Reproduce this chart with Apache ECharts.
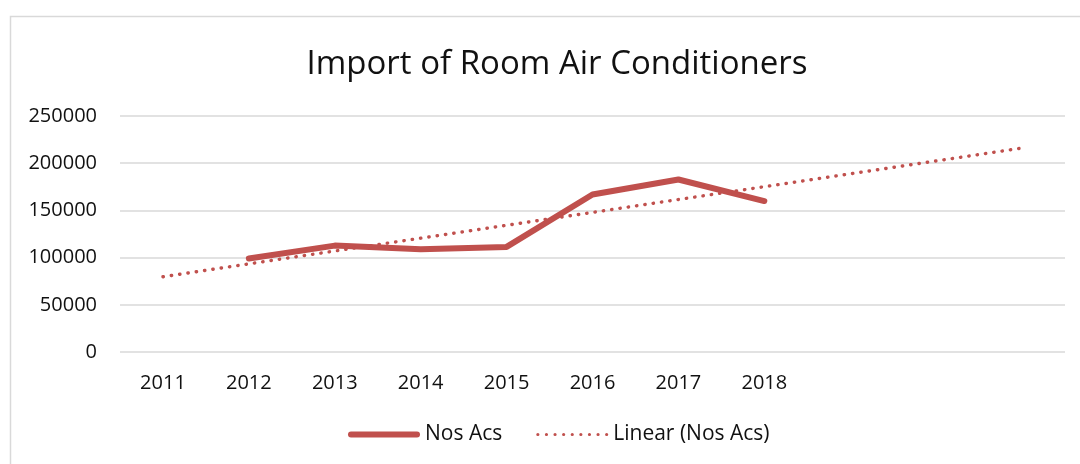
<!DOCTYPE html>
<html>
<head>
<meta charset="utf-8">
<title>Import of Room Air Conditioners</title>
<script src="https://cdn.jsdelivr.net/npm/echarts@6/dist/echarts.min.js"></script>
<style>
  html, body { margin: 0; padding: 0; background: #fff; }
  #main { width: 1080px; height: 464px; }
</style>
</head>
<body>
<div id="main"></div>
<script>
// years on the axis (the trend runs on past the data, those slots have no label)
var years = ['2011', '2012', '2013', '2014', '2015', '2016', '2017', '2018', '', '', ''];
// imports, Nos Acs (no value read for 2011)
var nosAcs = [null, 99000, 112700, 108800, 111300, 166900, 182700, 159900, null, null, null];
// linear trend, read at its two ends
var trendLine = [79700, null, null, null, null, null, null, null, null, null, 216000];
var yTicks = [0, 250000, 50000]; // min, max, step

var red = '#C0504D';
var font = 'Open Sans';

// legend icons: thick bar with round ends, and a row of dots
var solidIcon = 'path://M3,0 L69,0 A3,3 0 0 1 69,6 L3,6 A3,3 0 0 1 3,0 Z';
var dotIcon = 'path://';
for (var i = 0; i < 9; i++) {
  var cx = 1.6 + i * 8.6;
  dotIcon += 'M' + (cx - 1.6) + ',1.6 A1.6,1.6 0 1 0 ' + (cx + 1.6) + ',1.6 A1.6,1.6 0 1 0 ' + (cx - 1.6) + ',1.6 Z ';
}

var myChart = echarts.init(document.getElementById('main'));

var option = {
  backgroundColor: '#fff',
  textStyle: { fontFamily: font },
  title: {
    text: 'Import of Room Air Conditioners',
    left: 552,
    textAlign: 'center',
    top: 43,
    textStyle: { fontFamily: font, fontSize: 33, fontWeight: 'normal', color: '#111' }
  },
  graphic: [{
    type: 'rect',
    shape: { x: 10.5, y: 16.5, width: 1200, height: 600 },
    style: { fill: 'none', stroke: '#d9d9d9', lineWidth: 1.5 },
    silent: true
  }],
  legend: {
    bottom: 14,
    left: 343,
    itemWidth: 72,
    itemHeight: 14,
    itemGap: 34,
    symbolKeepAspect: true,
    textStyle: { fontFamily: font, fontSize: 21, color: '#111' },
    data: [
      { name: 'Nos Acs', icon: solidIcon, itemStyle: { color: red } },
      { name: 'Linear (Nos Acs)', icon: dotIcon, itemStyle: { color: red } }
    ]
  },
  grid: { left: 120, right: 15, top: 116, bottom: 112 },
  xAxis: {
    type: 'category',
    data: years,
    boundaryGap: true,
    axisLine: { show: false },
    axisTick: { show: false },
    axisLabel: { fontFamily: font, fontSize: 20, color: '#111', margin: 21, interval: 0 }
  },
  yAxis: {
    type: 'value',
    min: yTicks[0],
    max: yTicks[1],
    interval: yTicks[2],
    axisLine: { show: false },
    axisTick: { show: false },
    axisLabel: {
      fontFamily: font, fontSize: 20, color: '#111', margin: 23,
      formatter: function (v) { return String(v); }
    },
    splitLine: { lineStyle: { color: '#d9d9d9', width: 1.5 } }
  },
  series: [{
    name: 'Nos Acs',
    type: 'line',
    data: nosAcs,
    symbol: 'none',
    color: red,
    lineStyle: { color: red, width: 6, cap: 'round', join: 'round' }
  }, {
    name: 'Linear (Nos Acs)',
    type: 'line',
    data: trendLine,
    connectNulls: true,
    symbol: 'none',
    color: red,
    lineStyle: { color: red, width: 3.4, type: [0.4, 8], cap: 'round' }
  }]
};

myChart.setOption(option);
</script>
</body>
</html>
